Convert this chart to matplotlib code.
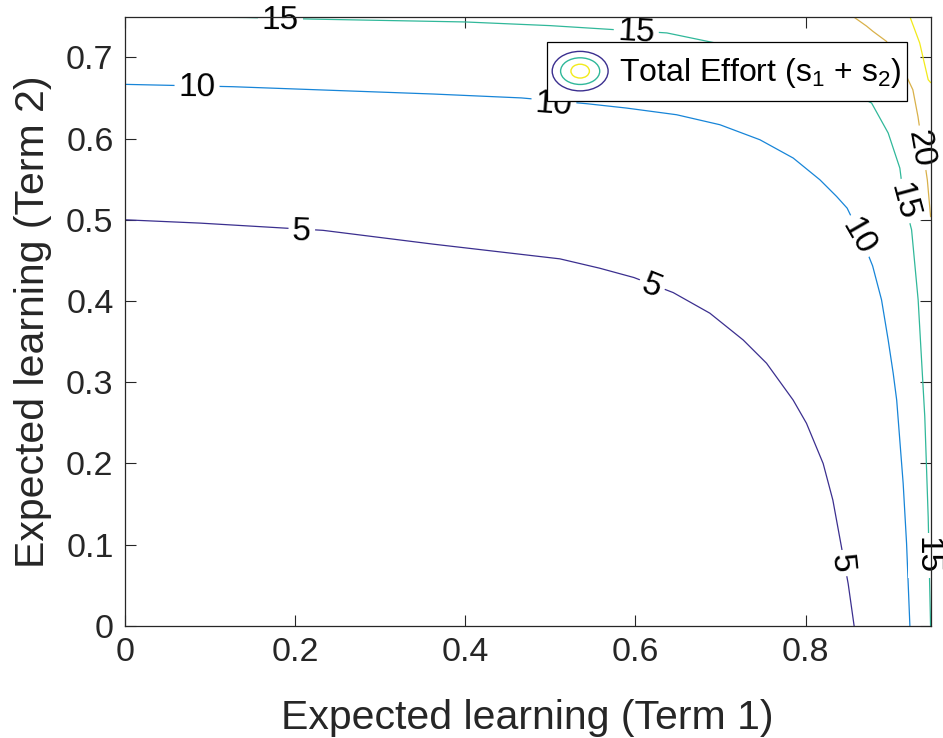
import matplotlib
matplotlib.use("Agg")
import matplotlib.pyplot as plt
from matplotlib.legend_handler import HandlerBase
from matplotlib.patches import Ellipse

plt.rcParams['font.family'] = ['Liberation Sans', 'DejaVu Sans']
plt.rcParams['mathtext.fontset'] = 'custom'
plt.rcParams['mathtext.rm'] = 'Liberation Sans'

# contour lines, one pair of lists per level
x5 = [0, 0.0885, 0.184, 0.233, 0.3625, 0.5113, 0.558, 0.5983, 0.6444, 0.6875,
      0.7267, 0.7541, 0.7854, 0.801, 0.8206, 0.832, 0.841, 0.850, 0.857]
y5 = [0.5, 0.4959, 0.490, 0.487, 0.470, 0.4519, 0.4404, 0.4289, 0.4104, 0.385,
      0.352, 0.3234, 0.278, 0.2495, 0.200, 0.155, 0.1036, 0.052, 0]

x10 = [0, 0.127, 0.3625, 0.466, 0.5427, 0.5897, 0.6484, 0.6993, 0.7463, 0.7854,
       0.8168, 0.8364, 0.8488, 0.865, 0.8787, 0.8892, 0.897, 0.9029, 0.907,
       0.9146, 0.9186, 0.9225]
y10 = [0.6667, 0.6638, 0.6548, 0.650, 0.6429, 0.6375, 0.6293, 0.617, 0.5985, 0.576,
       0.5492, 0.5287, 0.5143, 0.479, 0.4433, 0.4014, 0.352, 0.311, 0.278,
       0.1755, 0.1016, 0]

x15 = [0, 0.143, 0.221, 0.40, 0.4996, 0.637, 0.72, 0.80, 0.8775, 0.897, 0.9107,
       0.9154, 0.9245, 0.9322, 0.940, 0.944, 0.9468]
y15 = [0.75, 0.749, 0.747, 0.7435, 0.739, 0.730, 0.712, 0.685, 0.6437, 0.6068, 0.5636,
       0.525, 0.4876, 0.4014, 0.2576, 0.134, 0]

x20 = [0.856, 0.8716, 0.879, 0.895, 0.9186, 0.926, 0.932, 0.943, 0.9468]
y20 = [0.75, 0.7384, 0.732, 0.7196, 0.6765, 0.660, 0.627, 0.549, 0.504]

x25 = [0.9225, 0.934, 0.944, 0.9468]
y25 = [0.75, 0.7177, 0.6724, 0.669]

levels = [5, 10, 15, 20, 25]
level_colors = ['#3b2f8f', '#1785d8', '#30b89a', '#d9b14a', '#f2ea1a']

# inline labels: text, x, y, angle
label_text = ['15', '15', '10', '10', '5', '5', '5', '10', '15', '20', '15']
label_x = [0.183, 0.601, 0.085, 0.504, 0.208, 0.619, 0.842, 0.862, 0.9154, 0.934, 0.943]
label_y = [0.745, 0.731, 0.6625, 0.6415, 0.4855, 0.418, 0.077, 0.479, 0.5225, 0.588, 0.0866]
label_rot = [-0.5, -3, -0.5, -4, -2, -22, -84, -60, -75, -80, -90]


class ContourIcon:
    pass


class HandlerContourIcon(HandlerBase):
    def create_artists(self, legend, orig_handle, xdescent, ydescent,
                       width, height, fontsize, trans):
        cx = width / 2 - xdescent
        cy = height / 2 - ydescent
        arts = []
        for fw, fh, c in [(1.0, 0.80, level_colors[0]),
                          (0.70, 0.54, level_colors[2]),
                          (0.33, 0.28, level_colors[4])]:
            e = Ellipse((cx, cy), width * fw, height * fh, fill=False,
                        edgecolor=c, lw=1.0, transform=trans)
            arts.append(e)
        return arts


fig = plt.figure(figsize=(9.43, 7.38), dpi=100)
ax = fig.add_axes([0.1322, 0.1518, 0.8548, 0.8256])

xs = [x5, x10, x15, x20, x25]
ys = [y5, y10, y15, y20, y25]
for xx, yy, c in zip(xs, ys, level_colors):
    ax.plot(xx, yy, color=c, lw=0.9, zorder=2, solid_joinstyle='round')

for t, lx, ly, r in zip(label_text, label_x, label_y, label_rot):
    ax.text(lx, ly, t, rotation=r, rotation_mode='anchor', ha='center', va='center',
            fontsize=24, color='black', zorder=2.4, clip_on=False,
            bbox=dict(boxstyle='square,pad=0.12', fc='white', ec='none'))

ax.set_xlim(0, 0.947)
ax.set_ylim(0, 0.75)
ax.set_xticks([0, 0.2, 0.4, 0.6, 0.8])
ax.set_xticklabels(['0', '0.2', '0.4', '0.6', '0.8'])
ax.set_yticks([0, 0.1, 0.2, 0.3, 0.4, 0.5, 0.6, 0.7])
ax.set_yticklabels(['0', '0.1', '0.2', '0.3', '0.4', '0.5', '0.6', '0.7'])

axc = '#262626'
for s in ax.spines.values():
    s.set_color(axc)
    s.set_linewidth(0.9)
ax.tick_params(direction='in', length=8, width=0.8, colors=axc, labelsize=24.5,
               top=True, right=True, pad=8)

ax.set_xlabel('Expected learning (Term 1)', fontsize=29.5, color=axc, labelpad=22)
ax.set_ylabel('Expected learning (Term 2)', fontsize=29.5, color=axc, labelpad=10)

leg = ax.legend([ContourIcon()], ['Total Effort ($\\mathregular{s_1}$ + $\\mathregular{s_2}$)'],
                handler_map={ContourIcon: HandlerContourIcon()},
                loc='upper right', bbox_to_anchor=(0.970, 0.959), borderaxespad=0,
                fontsize=23, frameon=True, fancybox=False, framealpha=1,
                handlelength=1.75, handleheight=2.0, handletextpad=0.35, borderpad=0.15)
leg.get_frame().set_edgecolor('black')
leg.get_frame().set_linewidth(0.9)
leg.set_zorder(5)

fig.savefig('out.png', dpi=100)
